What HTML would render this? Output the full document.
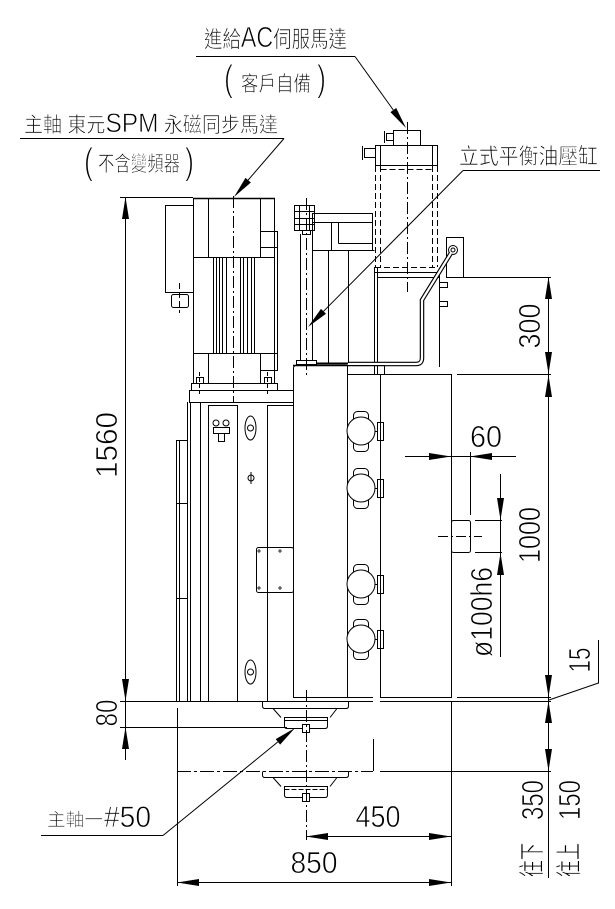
<!DOCTYPE html>
<html><head><meta charset="utf-8"><style>
html,body{margin:0;padding:0;background:#fff;}
svg{display:block;}
text{font-family:"Liberation Sans","Noto Sans CJK TC",sans-serif;fill:#000;stroke:#fff;stroke-width:0.7;paint-order:normal;}
.thin{stroke-width:1.1;}
</style></head><body>
<svg width="615" height="909" viewBox="0 0 615 909" xmlns="http://www.w3.org/2000/svg">
<rect x="0" y="0" width="615" height="909" fill="#fff"/>
<g fill="none" stroke="#000" stroke-width="1">
<!-- ===== Labels leaders ===== -->
<line x1="196" y1="56.5" x2="355" y2="56.5"/>
<line x1="355" y1="56.5" x2="393.3" y2="110"/>
<line x1="20" y1="138.5" x2="284" y2="138.5"/>
<line x1="284" y1="138.5" x2="248" y2="180.2"/>
<line x1="463" y1="170.5" x2="600" y2="170.5"/>
<line x1="463" y1="170.5" x2="323.5" y2="311.3"/>
<line x1="41" y1="835.5" x2="163" y2="835.5"/>
<line x1="163" y1="835.5" x2="277.9" y2="741.9"/>

<!-- ===== Servo motor / cylinder (top right) ===== -->
<rect x="393.5" y="130.5" width="27" height="15"/>
<rect x="386.5" y="133.5" width="7" height="7"/>
<line x1="384.5" y1="131" x2="384.5" y2="143"/>
<rect x="375.5" y="145.5" width="62" height="20"/>
<line x1="380.5" y1="145.5" x2="380.5" y2="165.5"/>
<line x1="432.5" y1="145.5" x2="432.5" y2="165.5"/>
<rect x="364.5" y="148.5" width="11" height="9"/>
<line x1="362.5" y1="146" x2="362.5" y2="160"/>
<g stroke-dasharray="6 3">
<line x1="375.5" y1="166" x2="375.5" y2="267"/>
<line x1="380.5" y1="166" x2="380.5" y2="267"/>
<line x1="432.5" y1="166" x2="432.5" y2="267"/>
<line x1="437.5" y1="166" x2="437.5" y2="267"/>
<line x1="380.5" y1="169.5" x2="432.5" y2="169.5"/>
<line x1="375" y1="267.5" x2="438" y2="267.5"/>
</g>
<line x1="407.5" y1="122" x2="407.5" y2="292" stroke-dasharray="12 3 2 3"/>
<line x1="374" y1="272.5" x2="439" y2="272.5"/>
<line x1="377" y1="277.5" x2="439" y2="277.5"/>
<line x1="374.5" y1="267" x2="374.5" y2="374"/>
<line x1="377.5" y1="267" x2="377.5" y2="374"/>
<line x1="439.5" y1="272" x2="439.5" y2="367"/>
<!-- bracket right -->
<rect x="446.5" y="237.5" width="17" height="40"/>
<circle cx="453" cy="250" r="4.5"/>
<circle cx="453" cy="250" r="2"/>
<rect x="439.5" y="282.5" width="8" height="5"/>
<rect x="439.5" y="301.5" width="8" height="5"/>
<!-- pipe -->
<path d="M451,253 L422,300 L422,358 Q422,364 416,364 L348,364" stroke-width="4.5"/>
<path d="M451,253 L422,300 L422,358 Q422,364 416,364 L348,364" stroke="#fff" stroke-width="2.2"/>

<!-- ===== Balance rod + bracket ===== -->
<rect x="294.5" y="205.5" width="20" height="25"/>
<line x1="294.5" y1="211.5" x2="314.5" y2="211.5"/>
<line x1="294.5" y1="218.5" x2="314.5" y2="218.5"/>
<line x1="294.5" y1="224.5" x2="314.5" y2="224.5"/>
<line x1="299.5" y1="205.5" x2="299.5" y2="230.5"/>
<line x1="309.5" y1="205.5" x2="309.5" y2="230.5"/>
<rect x="302.5" y="230.5" width="8" height="4"/>
<line x1="300.5" y1="234" x2="300.5" y2="360"/>
<line x1="312.5" y1="234" x2="312.5" y2="360"/>
<rect x="296.5" y="360.5" width="20" height="4"/>
<line x1="306.5" y1="198" x2="306.5" y2="378" stroke-dasharray="12 3 2 3"/>
<rect x="312.5" y="213.5" width="60" height="37"/>
<line x1="312.5" y1="222.5" x2="372.5" y2="222.5"/>
<line x1="331.5" y1="222.5" x2="331.5" y2="250.5"/>
<line x1="338.5" y1="222.5" x2="338.5" y2="243.5"/>
<line x1="338.5" y1="243.5" x2="372.5" y2="243.5"/>
<line x1="328.5" y1="250.5" x2="328.5" y2="363"/>
<line x1="348.5" y1="250.5" x2="348.5" y2="363"/>
<line x1="372.5" y1="250.5" x2="374.5" y2="250.5"/>
<line x1="316" y1="363.5" x2="348" y2="363.5" stroke-width="2"/>

<!-- ===== Spindle motor ===== -->
<rect x="165.5" y="205.5" width="28" height="87"/>
<rect x="171.5" y="294.5" width="17" height="13" rx="2"/>
<line x1="179.5" y1="283" x2="179.5" y2="313" stroke-dasharray="6 3"/>
<line x1="193.5" y1="198" x2="193.5" y2="383"/>
<line x1="274.5" y1="198" x2="274.5" y2="383"/>
<line x1="193" y1="198.5" x2="275" y2="198.5" stroke-width="1.4"/>
<line x1="277.5" y1="247" x2="277.5" y2="353"/>
<line x1="193.5" y1="257.5" x2="274.5" y2="257.5"/>
<line x1="193.5" y1="353.5" x2="274.5" y2="353.5"/>
<line x1="208.5" y1="198.5" x2="208.5" y2="257.5"/>
<line x1="260.5" y1="198.5" x2="260.5" y2="257.5"/>
<line x1="208.5" y1="353.5" x2="208.5" y2="383"/>
<line x1="260.5" y1="353.5" x2="260.5" y2="383"/>
<rect x="260.5" y="231.5" width="17" height="16"/>
<rect x="260.5" y="353.5" width="17" height="17"/>
<g>
<line x1="213.5" y1="257.5" x2="213.5" y2="353.5"/>
<line x1="216.5" y1="257.5" x2="216.5" y2="353.5"/>
<line x1="219.5" y1="257.5" x2="219.5" y2="353.5"/>
<line x1="222.5" y1="257.5" x2="222.5" y2="353.5"/>
<line x1="226.5" y1="257.5" x2="226.5" y2="353.5"/>
<line x1="240.5" y1="257.5" x2="240.5" y2="353.5"/>
<line x1="243.5" y1="257.5" x2="243.5" y2="353.5"/>
<line x1="247.5" y1="257.5" x2="247.5" y2="353.5"/>
<line x1="251.5" y1="257.5" x2="251.5" y2="353.5"/>
<line x1="254.5" y1="257.5" x2="254.5" y2="353.5"/>
</g>
<line x1="233.5" y1="196" x2="233.5" y2="402" stroke-dasharray="12 3 2 3"/>
<rect x="191.5" y="383.5" width="86" height="7"/>
<rect x="196.5" y="377.5" width="7" height="6"/>
<rect x="264.5" y="377.5" width="7" height="6"/>
<line x1="199.5" y1="372" x2="199.5" y2="396" stroke-dasharray="4 2"/>
<line x1="267.5" y1="372" x2="267.5" y2="396" stroke-dasharray="4 2"/>
<rect x="189.5" y="390.5" width="104" height="12"/>

<!-- ===== Column ===== -->
<line x1="176.5" y1="440" x2="176.5" y2="702"/>
<line x1="179.5" y1="440" x2="179.5" y2="702"/>
<line x1="176.5" y1="440.5" x2="187.5" y2="440.5"/>
<line x1="176.5" y1="503.5" x2="187.5" y2="503.5"/>
<line x1="176.5" y1="598.5" x2="187.5" y2="598.5"/>
<line x1="187.5" y1="402" x2="187.5" y2="702"/>
<line x1="190.5" y1="402" x2="190.5" y2="702"/>
<line x1="200.5" y1="402" x2="200.5" y2="702"/>
<line x1="208.5" y1="405" x2="208.5" y2="702"/>
<line x1="237.5" y1="405" x2="237.5" y2="702"/>
<line x1="267.5" y1="405" x2="267.5" y2="702"/>
<line x1="208.5" y1="405.5" x2="237.5" y2="405.5"/>
<line x1="267.5" y1="405.5" x2="293.5" y2="405.5"/>
<!-- symbols -->
<circle cx="216" cy="423" r="3"/>
<circle cx="226" cy="423" r="3"/>
<rect x="213.5" y="427.5" width="16" height="6"/>
<rect x="218.5" y="433.5" width="6" height="8"/>
<ellipse cx="250.5" cy="428" rx="5.5" ry="12"/>
<circle cx="250.5" cy="428" r="3"/>
<ellipse cx="250.5" cy="672" rx="5.5" ry="12"/>
<circle cx="250.5" cy="672" r="3"/>
<circle cx="251" cy="478" r="3"/>
<line x1="251" y1="472" x2="251" y2="484"/>
<rect x="256.5" y="547.5" width="37" height="45" rx="2"/>
<g stroke-width="0.8">
<path d="M257,551 h4 M259,549 v4 M278,551 h4 M280,549 v4 M257,588 h4 M259,586 v4 M278,588 h4 M280,586 v4"/>
</g>

<!-- ===== Head ===== -->
<path d="M293.5,697 L293.5,368 Q293.5,365.5 296.5,365.5 L347.5,365.5 L347.5,697"/>
<line x1="293" y1="365.5" x2="347" y2="365.5" stroke-width="1.6"/>
<line x1="347.5" y1="365.5" x2="384.5" y2="365.5"/>
<line x1="347.5" y1="374.5" x2="451.5" y2="374.5"/>
<line x1="384.5" y1="365.5" x2="384.5" y2="374.5"/>
<line x1="293" y1="697.5" x2="373" y2="697.5"/>
<!-- cylinders -->
<g>
<rect x="353.5" y="411.5" width="15" height="40" rx="4"/>
<circle cx="361" cy="431" r="14" fill="#fff"/>
<line x1="375" y1="431.5" x2="377" y2="431.5"/>
<rect x="377.5" y="422.5" width="6" height="18"/>
<rect x="353.5" y="468.5" width="15" height="40" rx="4"/>
<circle cx="361" cy="488" r="14" fill="#fff"/>
<line x1="375" y1="488.5" x2="377" y2="488.5"/>
<rect x="377.5" y="479.5" width="6" height="18"/>
<rect x="353.5" y="564.5" width="15" height="40" rx="4"/>
<circle cx="361" cy="584" r="14" fill="#fff"/>
<line x1="375" y1="584.5" x2="377" y2="584.5"/>
<rect x="377.5" y="575.5" width="6" height="18"/>
<rect x="353.5" y="619.5" width="15" height="40" rx="4"/>
<circle cx="361" cy="639" r="14" fill="#fff"/>
<line x1="375" y1="639.5" x2="377" y2="639.5"/>
<rect x="377.5" y="630.5" width="6" height="18"/>
</g>
<!-- right box -->
<rect x="380.5" y="374.5" width="71" height="323"/>

<!-- base line -->
<line x1="120" y1="701.5" x2="373" y2="701.5"/>
<line x1="380" y1="701.5" x2="551" y2="701.5"/>

<!-- spindle nose -->
<path d="M262.5,701.5 L262.5,706 Q262.5,708.5 265,708.5 L346,708.5 Q348.5,708.5 348.5,706 L348.5,701.5"/>
<path d="M273,708.5 L281,717.5 M337,708.5 L330,717.5"/>
<path d="M284.5,717.5 L284.5,726 Q284.5,728.5 287,728.5 L325,728.5 Q327.5,728.5 327.5,726 L327.5,717.5 Z"/>
<line x1="284.5" y1="720.5" x2="327.5" y2="720.5"/>
<rect x="302.5" y="724.5" width="7" height="8" fill="#fff"/>
<!-- lower position -->
<path d="M262.5,771.5 L262.5,775 Q262.5,777.5 265,777.5 L346,777.5 Q348.5,777.5 348.5,775 L348.5,771.5"/>
<path d="M273,777.5 L281,786.5 M337,777.5 L330,786.5"/>
<path d="M284.5,786.5 L284.5,795 Q284.5,797.5 287,797.5 L325,797.5 Q327.5,797.5 327.5,795 L327.5,786.5 Z"/>
<line x1="284.5" y1="789.5" x2="327.5" y2="789.5" stroke-dasharray="5 2"/>
<rect x="302.5" y="793.5" width="7" height="8" fill="#fff"/>
<line x1="306.5" y1="690" x2="306.5" y2="840" stroke-dasharray="12 3 2 3"/>
<line x1="177" y1="771.5" x2="373" y2="771.5" stroke-dasharray="14 3 3 3"/>
<line x1="380" y1="771.5" x2="551" y2="771.5"/>
<line x1="373.5" y1="739" x2="373.5" y2="771"/>

<!-- ===== Dimensions ===== -->
<line x1="125.5" y1="197" x2="125.5" y2="760"/>
<line x1="120" y1="197.5" x2="193" y2="197.5"/>
<line x1="120" y1="727.5" x2="287" y2="727.5"/>
<line x1="177.5" y1="708" x2="177.5" y2="886"/>
<line x1="451.5" y1="702" x2="451.5" y2="886"/>
<line x1="177" y1="882.5" x2="451" y2="882.5"/>
<line x1="306" y1="836.5" x2="451" y2="836.5"/>
<line x1="548.5" y1="277" x2="548.5" y2="878"/>
<line x1="463" y1="277.5" x2="551" y2="277.5"/>
<line x1="457" y1="374.5" x2="551" y2="374.5"/>
<line x1="457" y1="697.5" x2="551" y2="697.5"/>
<polyline points="549,700 598.5,683 598.5,640"/>
<line x1="405" y1="456.5" x2="516" y2="456.5"/>
<line x1="470.5" y1="452" x2="470.5" y2="515"/>
<rect x="451.5" y="520.5" width="19" height="32" rx="2"/>
<line x1="438" y1="536.5" x2="482" y2="536.5" stroke-dasharray="10 3 2 3"/>
<line x1="475" y1="520.5" x2="502" y2="520.5"/>
<line x1="475" y1="552.5" x2="502" y2="552.5"/>
<line x1="500.5" y1="474" x2="500.5" y2="657"/>
</g>

<!-- arrowheads -->
<g fill="#000" stroke="none">
<polygon points="406,128 390.4,112.1 396.2,108"/>
<polygon points="234,197 245.5,177.9 250.9,182.5"/>
<polygon points="308,327 321,308.9 326,313.8"/>
<polygon points="295,728 280.1,744.6 275.7,739.1"/>
<polygon points="125.5,197 122,219 129,219"/>
<polygon points="125.5,701 122,679 129,679"/>
<polygon points="125.5,727 122,749 129,749"/>
<polygon points="548.5,277 545,299 552,299"/>
<polygon points="548.5,374 545,352 552,352"/>
<polygon points="548.5,375 545,397 552,397"/>
<polygon points="548.5,697 545,675 552,675"/>
<polygon points="548.5,701 545,723 552,723"/>
<polygon points="548.5,771 545,749 552,749"/>
<polygon points="451,456.5 429,453 429,460"/>
<polygon points="470,456.5 492,453 492,460"/>
<polygon points="500.5,520 497,498 504,498"/>
<polygon points="500.5,553 497,575 504,575"/>
<polygon points="306,836.5 328,833 328,840"/>
<polygon points="451,836.5 429,833 429,840"/>
<polygon points="177,882.5 199,879 199,886"/>
<polygon points="451,882.5 429,879 429,886"/>
</g>

<!-- ===== Text ===== -->
<text x="204" y="47" font-size="23" textLength="143" lengthAdjust="spacingAndGlyphs">進給<tspan font-size="29">AC</tspan>伺服馬達</text>
<text class="thin" x="224" y="91" font-size="37" textLength="9" lengthAdjust="spacingAndGlyphs">(</text>
<text x="241" y="91" font-size="21" textLength="70" lengthAdjust="spacingAndGlyphs">客戶自備</text>
<text class="thin" x="317" y="91" font-size="37" textLength="9" lengthAdjust="spacingAndGlyphs">)</text>

<text x="24" y="132" font-size="21" textLength="254" lengthAdjust="spacingAndGlyphs">主軸  東元<tspan font-size="27">SPM</tspan> 永磁同步馬達</text>
<text class="thin" x="84" y="174" font-size="37" textLength="9" lengthAdjust="spacingAndGlyphs">(</text>
<text x="98" y="171" font-size="21" textLength="82" lengthAdjust="spacingAndGlyphs">不含變頻器</text>
<text class="thin" x="185" y="174" font-size="37" textLength="9" lengthAdjust="spacingAndGlyphs">)</text>

<text x="459" y="164" font-size="22" textLength="139" lengthAdjust="spacingAndGlyphs">立式平衡油壓缸</text>

<text x="47" y="826" font-size="18" textLength="56" lengthAdjust="spacingAndGlyphs">主軸一</text>
<text x="104" y="827" font-size="30" textLength="47" lengthAdjust="spacingAndGlyphs">#50</text>

<g font-size="31" text-anchor="middle">
<text transform="translate(117,445) rotate(-90)" textLength="66" lengthAdjust="spacingAndGlyphs">1560</text>
<text transform="translate(117,713) rotate(-90)" textLength="27" lengthAdjust="spacingAndGlyphs">80</text>
<text transform="translate(540,326) rotate(-90)" textLength="45" lengthAdjust="spacingAndGlyphs">300</text>
<text transform="translate(540,535) rotate(-90)" textLength="56" lengthAdjust="spacingAndGlyphs">1000</text>
<text transform="translate(492,612) rotate(-90)" textLength="90" lengthAdjust="spacingAndGlyphs">ø100h6</text>
<text transform="translate(590,660) rotate(-90)" textLength="25" lengthAdjust="spacingAndGlyphs">15</text>
<text transform="translate(543,800) rotate(-90)" textLength="40" lengthAdjust="spacingAndGlyphs">350</text>
<text transform="translate(580,800) rotate(-90)" textLength="40" lengthAdjust="spacingAndGlyphs">150</text>
<text x="486" y="447" textLength="32" lengthAdjust="spacingAndGlyphs">60</text>
<text x="378" y="827" textLength="45" lengthAdjust="spacingAndGlyphs">450</text>
<text x="314" y="873" textLength="47" lengthAdjust="spacingAndGlyphs">850</text>
</g>
<g font-size="26" text-anchor="middle">
<text transform="translate(541,860) rotate(-90)" textLength="34" lengthAdjust="spacingAndGlyphs">往下</text>
<text transform="translate(578,860) rotate(-90)" textLength="34" lengthAdjust="spacingAndGlyphs">往上</text>
</g>
</svg>
</body></html>
